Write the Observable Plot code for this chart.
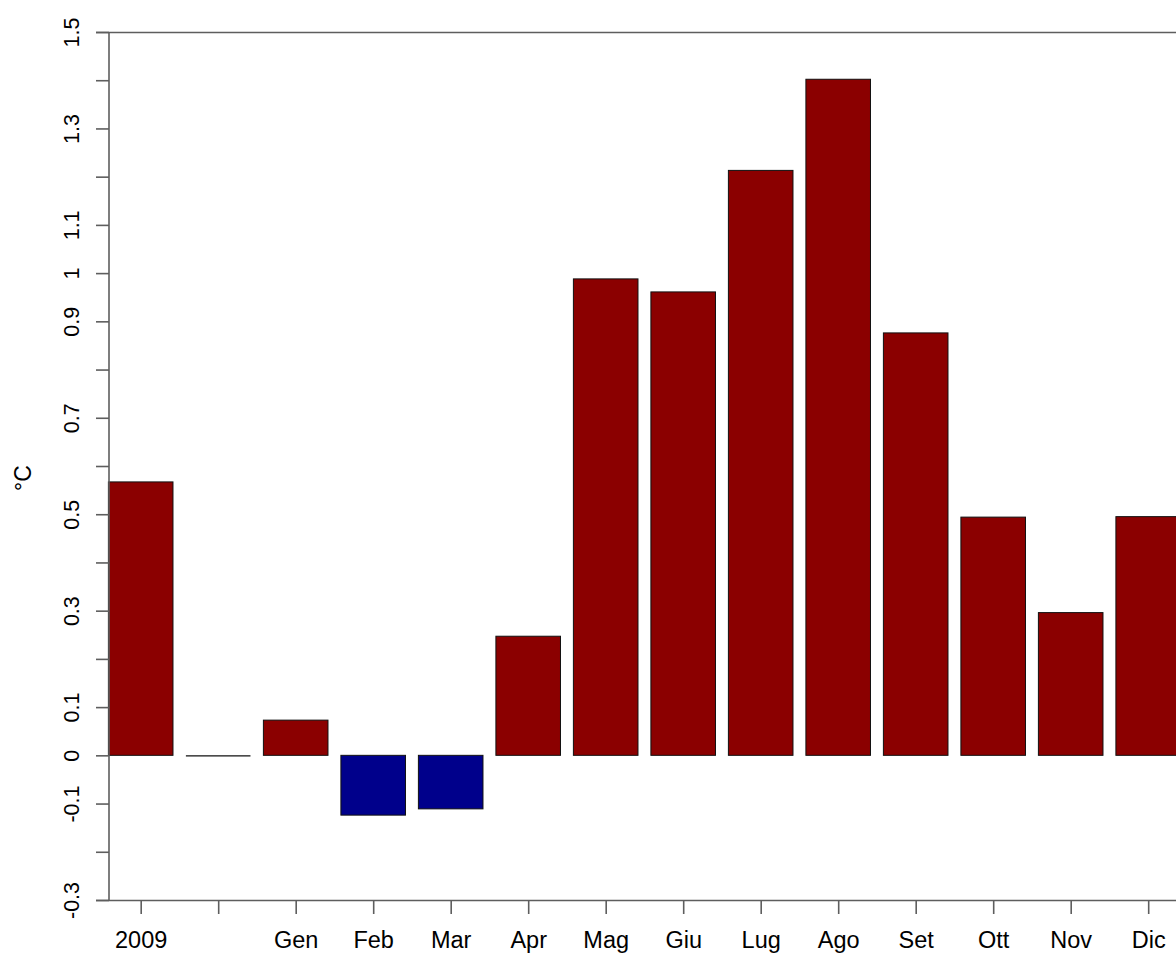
<!DOCTYPE html>
<html>
<head>
<meta charset="utf-8">
<script src="https://cdn.jsdelivr.net/npm/d3@7"></script>
<script src="https://cdn.jsdelivr.net/npm/@observablehq/plot@0.6"></script>
<style>
  html, body { margin: 0; padding: 0; background: #fff; overflow: hidden; }
  #chart svg { display: block; overflow: hidden; }
</style>
</head>
<body>
<div id="chart"></div>
<script>
const categories = ["2009", "", "Gen", "Feb", "Mar", "Apr", "Mag", "Giu", "Lug", "Ago", "Set", "Ott", "Nov", "Dic"];
const values = [0.567, 0, 0.073, -0.124, -0.111, 0.247, 0.988, 0.961, 1.213, 1.402, 0.876, 0.494, 0.296, 0.495];
const yTicks = [-0.3, -0.2, -0.1, 0, 0.1, 0.2, 0.3, 0.4, 0.5, 0.6, 0.7, 0.8, 0.9, 1, 1.1, 1.2, 1.3, 1.4, 1.5];
const yLabels = ["-0.3", "-0.1", "0", "0.1", "0.3", "0.5", "0.7", "0.9", "1", "1.1", "1.3", "1.5"];
const yTitle = "°C";
const posColor = "#8B0000";
const negColor = "#00008B";

const data = categories.map((c, i) => ({cat: c, value: values[i]}));
const labelData = yLabels.map(l => ({v: +l, label: l}));

const W = 1176, H = 956;
const mL = 109, mT = 32, mB = 56;
const axisColor = "#5e5e5e";
const font = "'Liberation Sans', Arial, Helvetica, sans-serif";

// band scale: step 77.5, bar width ~64.6, first bar starting at the left spine
const step = 77.5, padIn = 0.2 / 1.2;
const r0 = 108.4;
const r1 = r0 + step * (categories.length - padIn);

const plot = Plot.plot({
  width: W,
  height: H,
  marginLeft: mL,
  marginRight: 0,
  marginTop: mT,
  marginBottom: mB,
  style: {fontFamily: font, fontSize: "22px", color: "#000", background: "#fff"},
  x: {domain: categories, range: [r0, r1], paddingInner: padIn, paddingOuter: 0, round: false, axis: null},
  y: {domain: [-0.3, 1.5], axis: null},
  marks: [
    Plot.barY(data, {
      x: "cat", y: "value",
      fill: d => d.value < 0 ? negColor : posColor,
      stroke: "#111", strokeWidth: 1
    }),
    // zero-height bars drawn as a line
    Plot.tickY(data.filter(d => d.value === 0), {x: "cat", y: "value", stroke: "#111", strokeWidth: 1.2}),
    // frame lines: top and bottom
    Plot.ruleY([1.5], {stroke: axisColor, strokeWidth: 1.6, insetLeft: -13}),
    Plot.ruleY([-0.3], {stroke: axisColor, strokeWidth: 1.6, insetLeft: -13}),
    // y axis ticks (no text)
    Plot.axisY({ticks: yTicks, tickSize: 13, tickFormat: () => "", stroke: axisColor, strokeWidth: 1.6, label: null}),
    // y labels rotated
    Plot.text(labelData, {
      y: "v", text: "label", frameAnchor: "left", dx: -37.5,
      rotate: -90, textAnchor: "middle", lineAnchor: "middle",
      fontSize: 21.5, fill: "#000"
    }),
    // x axis ticks and labels
    Plot.axisX({tickSize: 14, tickPadding: 17, stroke: axisColor, strokeWidth: 1.6, fontSize: 23.5, label: null, tickFormat: d => d})
  ]
});

const svg = d3.select(plot);
// left spine
svg.append("line")
  .attr("x1", mL).attr("x2", mL)
  .attr("y1", mT).attr("y2", H - mB)
  .attr("stroke", axisColor).attr("stroke-width", 1.6);

// y axis title
svg.append("text")
  .attr("transform", `translate(25,478) rotate(-90)`)
  .attr("text-anchor", "middle")
  .attr("dominant-baseline", "middle")
  .attr("font-family", font)
  .attr("font-size", 23)
  .attr("fill", "#000")
  .text(yTitle);

document.getElementById("chart").appendChild(plot);
</script>
</body>
</html>
